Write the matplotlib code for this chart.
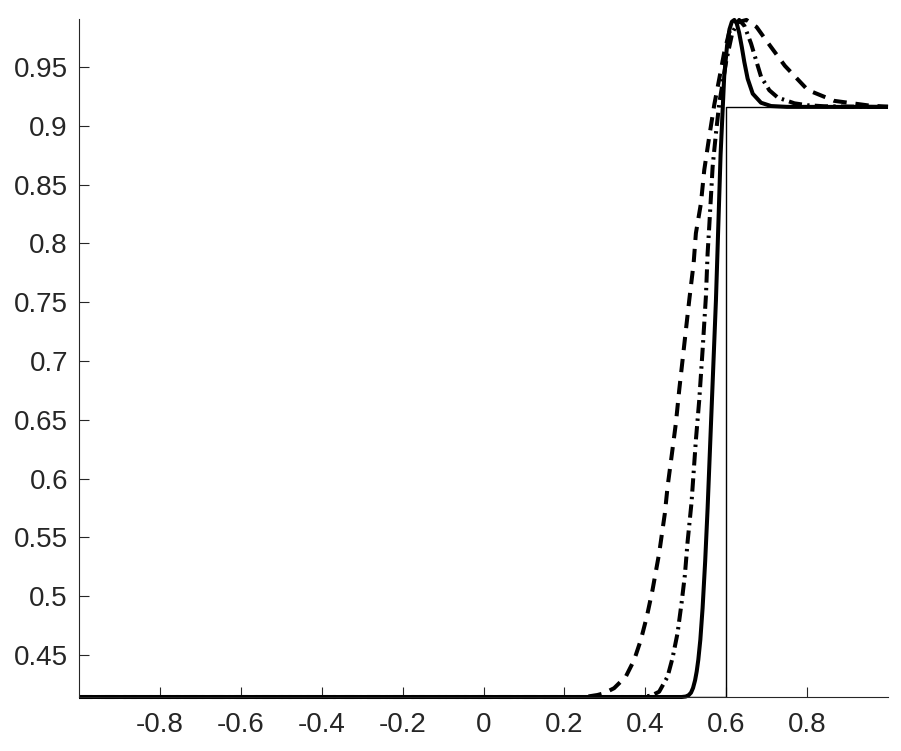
import numpy as np
import matplotlib.pyplot as plt

plt.rcParams['font.family'] = ['Liberation Sans', 'DejaVu Sans']

# exact solution (step)
exact_x = [-1.0, 0.6, 0.6, 1.0]
exact_y = [0.4143, 0.4143, 0.9160, 0.9160]

# thick solid curve
solid_x = [-1.0, 0.490, 0.500, 0.507, 0.513, 0.518, 0.523, 0.527, 0.531, 0.536,
           0.5416, 0.548, 0.554, 0.5746, 0.586, 0.595, 0.602, 0.608, 0.614, 0.620,
           0.626, 0.632, 0.6385, 0.6447, 0.653, 0.6655, 0.686, 0.7108, 0.75, 1.0]
solid_y = [0.4143, 0.4143, 0.4147, 0.4158, 0.4180, 0.4220, 0.4285, 0.4360, 0.4460, 0.4630,
           0.4900, 0.5300, 0.5750, 0.7519, 0.8750, 0.9420, 0.9680, 0.9820, 0.9885, 0.9900,
           0.9870, 0.9790, 0.9670, 0.9543, 0.9400, 0.9273, 0.9196, 0.9168, 0.9161, 0.9160]

# dash-dot curve
dashdot_x = [-1.0, 0.390, 0.415, 0.4342, 0.455, 0.4673, 0.4797, 0.4896, 0.4978, 0.5045,
             0.5143, 0.525, 0.5333, 0.5416, 0.5498, 0.554, 0.558, 0.5622, 0.5664, 0.5746,
             0.5828, 0.600, 0.615, 0.632, 0.645, 0.6613, 0.686, 0.7066, 0.7274, 0.7686,
             0.800, 0.842, 1.0]
dashdot_y = [0.4143, 0.4143, 0.4155, 0.4188, 0.4316, 0.4475, 0.4687, 0.4942, 0.518, 0.5463,
             0.580, 0.6328, 0.6668, 0.7094, 0.7550, 0.7916, 0.8142, 0.8397, 0.8652, 0.8936,
             0.9191, 0.955, 0.979, 0.990, 0.985, 0.970, 0.9418, 0.9302, 0.9240, 0.9191,
             0.9175, 0.9166, 0.9160]

# dashed curve
dashed_x = [-1.0, 0.250, 0.2816, 0.298, 0.3228, 0.3517, 0.3723, 0.3889, 0.4037, 0.4178,
            0.4342, 0.4483, 0.455, 0.4648, 0.4755, 0.4838, 0.4921, 0.5003, 0.509, 0.5194,
            0.525, 0.5375, 0.5457, 0.558, 0.5705, 0.5828, 0.5952, 0.6076, 0.628, 0.650,
            0.675, 0.700, 0.745, 0.8017, 0.867, 0.958, 1.0]
dashed_y = [0.4143, 0.4143, 0.4160, 0.4175, 0.4218, 0.4316, 0.4457, 0.4628, 0.4826, 0.5053,
            0.5365, 0.5705, 0.5931, 0.6186, 0.6470, 0.6753, 0.7009, 0.7264, 0.7530, 0.7830,
            0.8086, 0.8341, 0.8624, 0.8907, 0.9180, 0.940, 0.9627, 0.9798, 0.988, 0.990,
            0.984, 0.972, 0.951, 0.9304, 0.9212, 0.9170, 0.9163]

xticks = [-0.8, -0.6, -0.4, -0.2, 0, 0.2, 0.4, 0.6, 0.8]
xticklabels = ['-0.8', '-0.6', '-0.4', '-0.2', '0', '0.2', '0.4', '0.6', '0.8']
yticks = [0.45, 0.5, 0.55, 0.6, 0.65, 0.7, 0.75, 0.8, 0.85, 0.9, 0.95]
yticklabels = ['0.45', '0.5', '0.55', '0.6', '0.65', '0.7', '0.75', '0.8', '0.85', '0.9', '0.95']

fig = plt.figure(figsize=(9.01, 7.51), dpi=100)
ax = fig.add_axes([0.0877, 0.0719, 0.8979, 0.9028])

ax.plot(exact_x, exact_y, color='k', lw=1.0)
ax.plot(dashed_x, dashed_y, color='k', lw=2.9, dashes=(3.3, 2.2),
        dash_capstyle='butt', clip_on=False)
ax.plot(dashdot_x, dashdot_y, color='k', lw=2.9, dashes=(3.3, 1.3, 0.6, 1.3),
        dash_capstyle='butt', clip_on=False)
ax.plot(solid_x, solid_y, color='k', lw=2.9, solid_capstyle='butt',
        solid_joinstyle='round', clip_on=False)

ax.set_xlim(-1, 1)
ax.set_ylim(0.4143, 0.9908)
ax.set_xticks(xticks)
ax.set_xticklabels(xticklabels)
ax.set_yticks(yticks)
ax.set_yticklabels(yticklabels)

for s in ['top', 'right']:
    ax.spines[s].set_visible(False)
for s in ['left', 'bottom']:
    ax.spines[s].set_color('#262626')
    ax.spines[s].set_linewidth(0.8)

ax.tick_params(direction='in', length=7, width=0.8, colors='#262626', labelsize=20)
ax.tick_params(axis='x', pad=11)
ax.tick_params(axis='y', pad=8)

fig.savefig('out.png', dpi=100)
